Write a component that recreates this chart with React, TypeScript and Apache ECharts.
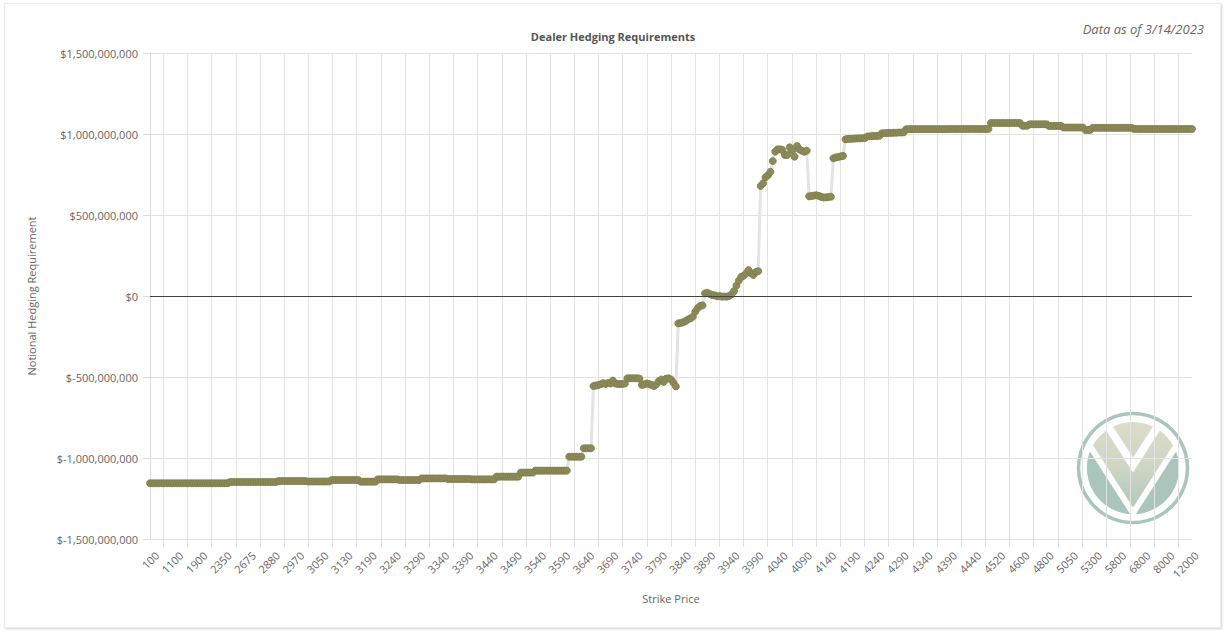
import React, { useEffect, useRef } from "react";
import * as echarts from "echarts";

// Tick labels shown under the axis (every 10th strike)
const tickLabels = [
  "100", "1100", "1900", "2350", "2675", "2880", "2970", "3050", "3130", "3190",
  "3240", "3290", "3340", "3390", "3440", "3490", "3540", "3590", "3640", "3690",
  "3740", "3790", "3840", "3890", "3940", "3990", "4040", "4090", "4140", "4190",
  "4240", "4290", "4340", "4390", "4440", "4520", "4600", "4800", "5050", "5300",
  "5800", "6800", "8000", "12000",
];

// Strike prices (categories), 10 per tick interval
const strikes = [
  100, 200, 300, 400, 500, 600, 700, 800, 900, 1000,
  1100, 1200, 1300, 1400, 1500, 1600, 1700, 1750, 1800, 1850,
  1900, 1950, 2000, 2050, 2100, 2150, 2200, 2250, 2300, 2325,
  2350, 2375, 2400, 2425, 2450, 2500, 2550, 2600, 2625, 2650,
  2675, 2700, 2725, 2750, 2775, 2800, 2825, 2850, 2860, 2870,
  2880, 2890, 2900, 2910, 2920, 2925, 2930, 2940, 2950, 2960,
  2970, 2975, 2980, 2990, 3000, 3010, 3020, 3025, 3030, 3040,
  3050, 3060, 3070, 3075, 3080, 3090, 3100, 3110, 3120, 3125,
  3130, 3140, 3145, 3150, 3155, 3160, 3165, 3170, 3175, 3180,
  3190, 3195, 3200, 3205, 3210, 3215, 3220, 3225, 3230, 3235,
  3240, 3245, 3250, 3255, 3260, 3265, 3270, 3275, 3280, 3285,
  3290, 3295, 3300, 3305, 3310, 3315, 3320, 3325, 3330, 3335,
  3340, 3345, 3350, 3355, 3360, 3365, 3370, 3375, 3380, 3385,
  3390, 3395, 3400, 3405, 3410, 3415, 3420, 3425, 3430, 3435,
  3440, 3445, 3450, 3455, 3460, 3465, 3470, 3475, 3480, 3485,
  3490, 3495, 3500, 3505, 3510, 3515, 3520, 3525, 3530, 3535,
  3540, 3545, 3550, 3555, 3560, 3565, 3570, 3575, 3580, 3585,
  3590, 3595, 3600, 3605, 3610, 3615, 3620, 3625, 3630, 3635,
  3640, 3645, 3650, 3655, 3660, 3665, 3670, 3675, 3680, 3685,
  3690, 3695, 3700, 3705, 3710, 3715, 3720, 3725, 3730, 3735,
  3740, 3745, 3750, 3755, 3760, 3765, 3770, 3775, 3780, 3785,
  3790, 3795, 3800, 3805, 3810, 3815, 3820, 3825, 3830, 3835,
  3840, 3845, 3850, 3855, 3860, 3865, 3870, 3875, 3880, 3885,
  3890, 3895, 3900, 3905, 3910, 3915, 3920, 3925, 3930, 3935,
  3940, 3945, 3950, 3955, 3960, 3965, 3970, 3975, 3980, 3985,
  3990, 3995, 4000, 4005, 4010, 4015, 4020, 4025, 4030, 4035,
  4040, 4045, 4050, 4055, 4060, 4065, 4070, 4075, 4080, 4085,
  4090, 4095, 4100, 4105, 4110, 4115, 4120, 4125, 4130, 4135,
  4140, 4145, 4150, 4155, 4160, 4165, 4170, 4175, 4180, 4185,
  4190, 4195, 4200, 4205, 4210, 4215, 4220, 4225, 4230, 4235,
  4240, 4245, 4250, 4255, 4260, 4265, 4270, 4275, 4280, 4285,
  4290, 4295, 4300, 4305, 4310, 4315, 4320, 4325, 4330, 4335,
  4340, 4345, 4350, 4355, 4360, 4365, 4370, 4375, 4380, 4385,
  4390, 4395, 4400, 4405, 4410, 4415, 4420, 4425, 4430, 4435,
  4440, 4450, 4460, 4470, 4475, 4480, 4490, 4500, 4510, 4515,
  4520, 4525, 4530, 4540, 4550, 4560, 4570, 4575, 4580, 4590,
  4600, 4625, 4650, 4675, 4700, 4725, 4750, 4760, 4775, 4790,
  4800, 4825, 4850, 4875, 4900, 4925, 4950, 4975, 5000, 5025,
  5050, 5075, 5100, 5125, 5150, 5175, 5200, 5225, 5250, 5275,
  5300, 5350, 5400, 5450, 5500, 5550, 5600, 5650, 5700, 5750,
  5800, 5900, 6000, 6100, 6200, 6300, 6400, 6500, 6600, 6700,
  6800, 6900, 7000, 7200, 7400, 7500, 7600, 7700, 7800, 7900,
  8000, 8200, 8400, 8600, 8800, 9000, 9500, 10000, 10500, 11000,
  12000,
];

// Notional hedging requirement, in millions of dollars
const hedgingMillions = [
  -1156, -1156, -1156, -1156, -1156, -1156, -1156, -1156, -1156, -1156,
  -1156, -1156, -1156, -1156, -1156, -1156, -1156, -1156, -1156, -1156,
  -1156, -1156, -1156, -1156, -1156, -1156, -1156, -1156, -1156, -1156,
  -1156, -1156, -1156, -1148, -1148, -1148, -1148, -1148, -1148, -1148,
  -1148, -1148, -1148, -1148, -1148, -1148, -1148, -1148, -1148, -1148,
  -1148, -1148, -1148, -1142, -1142, -1142, -1142, -1142, -1142, -1142,
  -1142, -1142, -1142, -1142, -1142, -1145, -1145, -1145, -1145, -1145,
  -1145, -1145, -1145, -1145, -1145, -1136, -1136, -1136, -1136, -1136,
  -1136, -1136, -1136, -1136, -1136, -1136, -1136, -1146, -1146, -1146,
  -1146, -1146, -1146, -1146, -1132, -1132, -1132, -1132, -1132, -1132,
  -1132, -1132, -1132, -1136, -1136, -1136, -1136, -1136, -1136, -1136,
  -1136, -1136, -1126, -1126, -1126, -1126, -1126, -1126, -1126, -1126,
  -1126, -1126, -1126, -1130, -1130, -1130, -1130, -1130, -1130, -1130,
  -1130, -1130, -1130, -1132, -1132, -1132, -1132, -1132, -1132, -1132,
  -1132, -1132, -1132, -1115, -1115, -1115, -1115, -1115, -1115, -1115,
  -1115, -1115, -1115, -1090, -1090, -1090, -1090, -1090, -1090, -1078,
  -1078, -1078, -1078, -1078, -1078, -1078, -1078, -1078, -1078, -1078,
  -1078, -1078, -1078, -992, -992, -992, -992, -992, -992, -940,
  -940, -940, -940, -556, -553, -549, -545, -538, -543, -537,
  -540, -522, -540, -543, -543, -543, -540, -508, -508, -508,
  -508, -508, -510, -549, -545, -540, -543, -549, -556, -545,
  -525, -515, -530, -510, -508, -515, -535, -558, -169, -167,
  -162, -155, -145, -138, -128, -97, -75, -62, -58, 16,
  20, 12, 6, 4, -2, 0, -4, -3, -4, 0,
  10, 30, 65, 95, 118, 125, 140, 160, 140, 130,
  148, 153, 679, 696, 733, 745, 767, 833, 891, 905,
  905, 901, 870, 870, 918, 897, 860, 926, 905, 897,
  890, 897, 615, 617, 620, 622, 618, 612, 608, 609,
  611, 613, 850, 855, 858, 862, 865, 967, 970, 970,
  971, 972, 973, 973, 974, 975, 985, 986, 987, 988,
  988, 989, 1004, 1005, 1006, 1007, 1007, 1008, 1008, 1009,
  1009, 1010, 1029, 1030, 1030, 1030, 1030, 1030, 1030, 1030,
  1030, 1030, 1030, 1030, 1030, 1030, 1030, 1030, 1030, 1030,
  1031, 1031, 1031, 1031, 1031, 1031, 1031, 1031, 1031, 1031,
  1031, 1031, 1031, 1031, 1031, 1031, 1031, 1068, 1068, 1068,
  1068, 1068, 1068, 1068, 1068, 1068, 1068, 1068, 1068, 1068,
  1051, 1051, 1051, 1060, 1060, 1060, 1060, 1060, 1060, 1060,
  1060, 1050, 1050, 1050, 1050, 1050, 1050, 1040, 1040, 1040,
  1040, 1040, 1040, 1040, 1040, 1040, 1025, 1025, 1025, 1038,
  1038, 1038, 1038, 1038, 1038, 1038, 1038, 1038, 1038, 1038,
  1038, 1038, 1038, 1038, 1038, 1038, 1031, 1031, 1031, 1031,
  1031, 1031, 1031, 1031, 1031, 1031, 1031, 1031, 1031, 1031,
  1031, 1031, 1031, 1031, 1031, 1031, 1031, 1031, 1031, 1031,
  1031,
];

const FONT = "'Open Sans', 'Noto Sans', sans-serif";

function formatDollars(v: number): string {
  const s = String(Math.abs(Math.round(v))).replace(/\B(?=(\d{3})+(?!\d))/g, ",");
  return v < 0 ? "$-" + s : "$" + s;
}

function buildLogo() {
  const cx = 1133;
  const cy = 468;
  const r = 46;
  const rad = (d: number) => (d * Math.PI) / 180;
  const seg = (side: number) => {
    const pts: number[][] = [];
    for (let a = 205; a >= 92; a -= 4) {
      const ang = side < 0 ? a : 180 - a;
      pts.push([cx + r * Math.cos(rad(ang)), cy + r * Math.sin(rad(ang))]);
    }
    pts.push([cx, cy + 45]);
    return pts;
  };
  const z = -5;
  return [
    {
      type: "circle",
      z,
      shape: { cx, cy, r },
      style: {
        fill: {
          type: "linear",
          x: 0, y: 0, x2: 0, y2: 1,
          colorStops: [
            { offset: 0, color: "#dcdcca" },
            { offset: 0.45, color: "#d0d6c4" },
            { offset: 1, color: "#aec7bd" },
          ],
        },
      },
    },
    { type: "polygon", z, shape: { points: seg(-1) }, style: { fill: "#aac5bb" } },
    { type: "polygon", z, shape: { points: seg(1) }, style: { fill: "#aac5bb" } },
    {
      type: "polyline",
      z,
      shape: { points: [[cx - 44.3, cy + 45 - 68.9], [cx, cy + 45], [cx + 44.3, cy + 45 - 68.9]] },
      style: { stroke: "#ffffff", lineWidth: 6, fill: null, lineJoin: "miter" },
    },
    {
      type: "polyline",
      z,
      shape: { points: [[cx - 24.8, cy - 3 - 38.6], [cx, cy - 3], [cx + 24.8, cy - 3 - 38.6]] },
      style: { stroke: "#ffffff", lineWidth: 8, fill: null, lineJoin: "miter" },
    },
    {
      type: "circle",
      z,
      shape: { cx, cy, r: 54.5 },
      style: { fill: null, stroke: "#a9c6bd", lineWidth: 3.5 },
    },
  ];
}

export default function App() {
  const ref = useRef<HTMLDivElement>(null);

  useEffect(() => {
    if (!ref.current) return;
    const chart = echarts.init(ref.current, null, { renderer: "svg" });
    const lastTick = tickLabels.length - 1;

    const option: any = {
      animation: false,
      backgroundColor: "transparent",
      textStyle: { fontFamily: FONT },
      grid: [
        { left: 150, right: 38, top: 53, bottom: 93 },
        { left: 163.3, right: 27.1, top: 53, bottom: 93 },
      ],
      xAxis: [
        {
          type: "category",
          gridIndex: 0,
          data: strikes.map(String),
          boundaryGap: false,
          axisLine: { show: false },
          axisTick: { show: false },
          axisLabel: { show: false },
          splitLine: { show: false },
          name: "Strike Price",
          nameLocation: "middle",
          nameGap: 54,
          nameTextStyle: { color: "#666", fontSize: 11, fontFamily: FONT },
        },
        {
          type: "category",
          gridIndex: 1,
          data: tickLabels,
          boundaryGap: false,
          axisLine: { show: false },
          axisTick: {
            show: true,
            interval: (i: number) => i < lastTick,
            length: 8,
            lineStyle: { color: "#dddddd" },
          },
          axisLabel: {
            interval: 0,
            rotate: 45,
            fontSize: 11,
            color: "#666",
            fontFamily: FONT,
            margin: 8,
            padding: [0, 9, 0, 0],
          },
          splitLine: {
            show: true,
            interval: (i: number) => i < lastTick,
            lineStyle: { color: "#e3e3e3", width: 1 },
          },
        },
      ],
      yAxis: [
        {
          type: "value",
          gridIndex: 0,
          min: -1500000000,
          max: 1500000000,
          interval: 500000000,
          axisLine: { show: true, lineStyle: { color: "#dddddd" } },
          axisTick: { show: true, length: 7, lineStyle: { color: "#dddddd" } },
          axisLabel: {
            formatter: (v: number) => formatDollars(v),
            color: "#666",
            fontSize: 11,
            fontFamily: FONT,
            margin: 12,
          },
          splitLine: { show: true, lineStyle: { color: "#e3e3e3", width: 1 } },
          name: "Notional Hedging Requirement",
          nameLocation: "middle",
          nameGap: 113,
          nameTextStyle: { color: "#666", fontSize: 11, fontFamily: FONT },
        },
        { type: "value", gridIndex: 1, show: false, min: 0, max: 1 },
      ],
      series: [
        {
          type: "line",
          xAxisIndex: 0,
          yAxisIndex: 0,
          data: hedgingMillions.map((v) => v * 1000000),
          symbol: "circle",
          symbolSize: 7,
          showSymbol: true,
          showAllSymbol: true,
          itemStyle: { color: "#8b8a58", borderColor: "#7e7d4d", borderWidth: 0.8 },
          lineStyle: { color: "#e4e4e4", width: 3 },
          z: 3,
          markLine: {
            silent: true,
            symbol: ["none", "none"],
            label: { show: false },
            lineStyle: { color: "#444444", width: 1, type: "solid" },
            data: [{ yAxis: 0 }],
          },
        },
      ],
      graphic: [
        ...buildLogo(),
        {
          type: "text",
          x: 613,
          y: 36,
          style: {
            text: "Dealer Hedging Requirements",
            font: "bold 11px " + FONT,
            fill: "#555",
            align: "center",
            verticalAlign: "middle",
            textAlign: "center",
            textVerticalAlign: "middle",
          },
        },
        {
          type: "text",
          x: 1204,
          y: 29,
          style: {
            text: "Data as of 3/14/2023",
            font: "italic 13px " + FONT,
            fill: "#666",
            align: "right",
            verticalAlign: "middle",
            textAlign: "right",
            textVerticalAlign: "middle",
          },
        },
      ],
    };

    chart.setOption(option);
    return () => chart.dispose();
  }, []);

  return (
    <div style={{ position: "absolute", left: 0, top: 0, width: 1230, height: 632, background: "#fff" }}>
      <div
        style={{
          position: "absolute",
          left: 4,
          top: 3,
          width: 1215,
          height: 623,
          border: "1px solid #ebebeb",
          boxShadow: "1px 1px 2px rgba(0,0,0,0.18)",
          background: "#fff",
        }}
      />
      <div ref={ref} style={{ position: "absolute", left: 0, top: 0, width: 1230, height: 632 }} />
    </div>
  );
}
